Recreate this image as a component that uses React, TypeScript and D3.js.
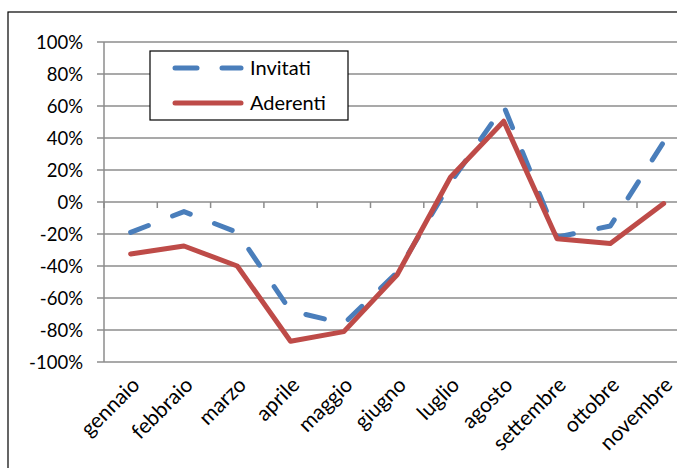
import React from "react";
import * as d3 from "d3";

const months = [
  "gennaio", "febbraio", "marzo", "aprile", "maggio", "giugno",
  "luglio", "agosto", "settembre", "ottobre", "novembre", "dicembre",
];
// only the first eleven months carry data
const invitati = [-0.19, -0.06, -0.19, -0.68, -0.76, -0.44, 0.12, 0.6, -0.22, -0.15, 0.375];
const aderenti = [-0.325, -0.275, -0.4, -0.87, -0.81, -0.455, 0.155, 0.505, -0.23, -0.26, -0.01];
const yTicks = [1, 0.8, 0.6, 0.4, 0.2, 0, -0.2, -0.4, -0.6, -0.8, -1];

const W = 677;
const H = 468;
const FONT = "Lato, 'Open Sans', sans-serif";
const FS = 18.5;
const FS_X = 21;
const FS_LEG = 20;

export default function App() {
  const left = 104;
  const catW = 53.3;
  const shown = months.slice(0, invitati.length);
  const x = d3
    .scaleBand<string>()
    .domain(shown)
    .range([left, left + catW * shown.length])
    .paddingInner(0)
    .paddingOuter(0);
  const y = d3.scaleLinear().domain([-1, 1]).range([362, 42]);
  const cx = (m: string) => (x(m) ?? 0) + x.bandwidth() / 2;

  const line = d3
    .line<number>()
    .x((_, i) => cx(shown[i]))
    .y((v) => y(v));

  const pct = (v: number) => `${Math.round(v * 100)}%`;
  const tickXs = d3.range(shown.length + 1).map((i) => left + catW * i);

  return (
    <svg
      width={W}
      height={H}
      style={{ position: "absolute", left: 0, top: 0, background: "#fff" }}
    >
      {/* chart frame */}
      <rect x={8} y={12} width={720} height={500} fill="#fff" stroke="#000" strokeWidth={1.2} />

      {/* horizontal gridlines */}
      {yTicks.map((t) => (
        <line
          key={t}
          x1={left - 7}
          x2={left + catW * shown.length}
          y1={y(t)}
          y2={y(t)}
          stroke="#8c8c8c"
          strokeWidth={1.5}
        />
      ))}
      {/* y axis */}
      <line x1={left} x2={left} y1={y(1)} y2={y(-1)} stroke="#8c8c8c" strokeWidth={1.5} />
      {/* category ticks on the zero line */}
      {tickXs.map((tx, i) => (
        <line key={i} x1={tx} x2={tx} y1={y(0)} y2={y(0) + 6} stroke="#8c8c8c" strokeWidth={1.5} />
      ))}

      {/* y tick labels */}
      {yTicks.map((t) => (
        <text
          key={t}
          x={left - 21}
          y={y(t)}
          dy="0.36em"
          textAnchor="end"
          fontFamily={FONT}
          fontSize={FS}
          fill="#000"
        >
          {pct(t)}
        </text>
      ))}

      {/* x tick labels */}
      {shown.map((m) => (
        <text
          key={m}
          transform={`translate(${cx(m) + 5},${y(-1) + 19}) rotate(-45)`}
          textAnchor="end"
          dy="0.35em"
          fontFamily={FONT}
          fontSize={FS_X}
          fill="#000"
        >
          {m}
        </text>
      ))}

      {/* series */}
      <path
        d={line(invitati) ?? ""}
        fill="none"
        stroke="#4a7ebb"
        strokeWidth={5}
        strokeDasharray="19 26"
        strokeLinecap="round"
        strokeLinejoin="round"
      />
      <path
        d={line(aderenti) ?? ""}
        fill="none"
        stroke="#be4b48"
        strokeWidth={5}
        strokeLinejoin="round"
        strokeLinecap="round"
      />

      {/* legend */}
      <g>
        <rect x={150} y={51} width={198} height={69} fill="#fff" stroke="#000" strokeWidth={1.2} />
        <line x1={175} x2={197} y1={68} y2={68} stroke="#4a7ebb" strokeWidth={5} strokeLinecap="round" />
        <line x1={222} x2={241} y1={68} y2={68} stroke="#4a7ebb" strokeWidth={5} strokeLinecap="round" />
        <text x={250} y={68} dy="0.36em" fontFamily={FONT} fontSize={FS_LEG} fill="#000">
          Invitati
        </text>
        <line x1={175} x2={241} y1={103} y2={103} stroke="#be4b48" strokeWidth={5} strokeLinecap="round" />
        <text x={250} y={103} dy="0.36em" fontFamily={FONT} fontSize={FS_LEG} fill="#000">
          Aderenti
        </text>
      </g>
    </svg>
  );
}
